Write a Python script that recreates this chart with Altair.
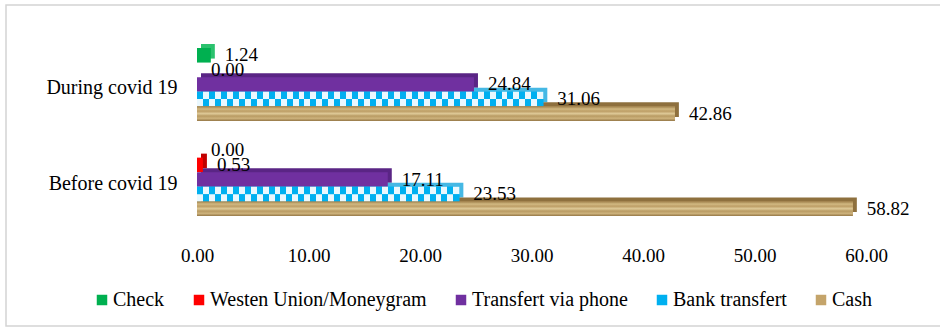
import altair as alt
import pandas as pd

# Share of transfer methods used, before and during covid 19
periods = ["During covid 19", "Before covid 19"]
methods = ["Check", "Westen Union/Moneygram", "Transfert via phone", "Bank transfert", "Cash"]
during_values = [1.24, 0.00, 24.84, 31.06, 42.86]
before_values = [0.00, 0.53, 17.11, 23.53, 58.82]
x_ticks = [0, 10, 20, 30, 40, 50, 60]

rows = []
for period, vals in zip(periods, [during_values, before_values]):
    for m, v in zip(methods, vals):
        rows.append({"period": period, "method": m, "value": v})
df = pd.DataFrame(rows)

FONT = "Liberation Serif"
W, H = 669, 200
X_MAX = 60
PX_PER_UNIT = W / X_MAX
P_INNER, P_OUTER = 0.232, 0.168
BAND = H / (2 - P_INNER + 2 * P_OUTER) * (1 - P_INNER)   # height of one period group
SLOT = BAND / len(methods)
DEPTH = 4

front_colors = ["#00B050", "#FF0000", "#7030A0", "#00B0F0", "#C4A46A"]
side_colors = ["#2BC26E", "#C00000", "#5A2585", "#45B8E4", "#8E703E"]

y_enc = alt.Y(
    "period:N",
    sort=periods,
    scale=alt.Scale(domain=periods, paddingInner=P_INNER, paddingOuter=P_OUTER),
    axis=alt.Axis(
        title=None, domain=False, ticks=False, labelFont=FONT, labelFontSize=20,
        labelColor="#000000", labelPadding=20, labelOffset=4, grid=False,
    ),
)


def yoff(field="method:N", domain=methods, shift=0.0):
    return alt.YOffset(
        field, sort=domain,
        scale=alt.Scale(domain=domain, range=[shift, BAND + shift], paddingInner=0, paddingOuter=0),
    )


x_enc = alt.X(
    "value:Q",
    scale=alt.Scale(domain=[0, X_MAX], nice=False),
    axis=alt.Axis(
        title=None, values=x_ticks, format=".2f", domain=False, ticks=False, grid=False,
        labelFont=FONT, labelFontSize=19, labelColor="#000000", labelPadding=14,
        labelFlush=False,
    ),
)

base = alt.Chart(df)

# extruded depth behind each bar (top and right faces)
depth = base.mark_bar(xOffset=DEPTH).encode(
    x=x_enc, y=y_enc, yOffset=yoff(shift=-DEPTH),
    color=alt.Color("method:N", scale=alt.Scale(domain=methods, range=side_colors), legend=None),
)

# front faces, also the source of the legend
front = base.mark_bar().encode(
    x=x_enc, y=y_enc, yOffset=yoff(),
    color=alt.Color(
        "method:N", sort=methods,
        scale=alt.Scale(domain=methods, range=front_colors),
        legend=alt.Legend(
            title=None, orient="none", direction="horizontal", legendX=-105, legendY=258,
            symbolType="square", symbolSize=110, symbolStrokeWidth=0, labelFont=FONT,
            labelFontSize=20, labelColor="#000000", columnPadding=24, labelOffset=1,
            labelLimit=0, padding=0, columns=5,
        ),
    ),
)

layers = [depth, front]

# checkerboard fill for bank transfers: two rows of alternating squares
sub_slots = [f"{m}|{r}" for m in methods for r in (0, 1)]
CELL = 6.0
for period, vals in zip(periods, [during_values, before_values]):
    v = vals[methods.index("Bank transfert")]
    n = max(1, round(v * PX_PER_UNIT / CELL))
    for row in (0, 1):
        stops = []
        for k in range(n):
            c = "#00B0F0" if (k + row) % 2 == 0 else "#EAF8FE"
            stops.append({"offset": k / n, "color": c})
            stops.append({"offset": (k + 1) / n, "color": c})
        grad = {"gradient": "linear", "x1": 0, "x2": 1, "y1": 0, "y2": 0, "stops": stops}
        layers.append(
            base.transform_filter(
                (alt.datum.method == "Bank transfert") & (alt.datum.period == period)
            ).transform_calculate(
                sub=f"datum.method + '|{row}'"
            ).mark_bar(fill=grad).encode(
                x=x_enc, y=y_enc, yOffset=yoff("sub:N", sub_slots)
            )
        )

# grained fill for cash
cash_stops = [
    {"offset": 0.0, "color": "#9E7F4A"},
    {"offset": 0.18, "color": "#D2B982"},
    {"offset": 0.33, "color": "#BD9E66"},
    {"offset": 0.5, "color": "#DEC997"},
    {"offset": 0.66, "color": "#B89A62"},
    {"offset": 0.82, "color": "#CDB27C"},
    {"offset": 1.0, "color": "#957746"},
]
cash_grad = {"gradient": "linear", "x1": 0, "x2": 0, "y1": 0, "y2": 1, "stops": cash_stops}
layers.append(
    base.transform_filter(alt.datum.method == "Cash")
    .mark_bar(fill=cash_grad)
    .encode(x=x_enc, y=y_enc, yOffset=yoff())
)

# value labels at the centre of each bar's slot
labels = base.mark_text(
    align="left", baseline="middle", dx=14, font=FONT, fontSize=19, color="#000000"
).encode(
    x=x_enc, y=y_enc,
    yOffset=alt.YOffset(
        "method:N", sort=methods,
        scale=alt.Scale(type="point", domain=methods, range=[SLOT / 2, BAND - SLOT / 2], padding=0),
    ),
    text=alt.Text("value:Q", format=".2f"),
)
layers.append(labels)

# outer frame
frame = alt.Chart(pd.DataFrame({"k": [0]})).mark_rect(
    fill=None, stroke="#D4D4D4", strokeWidth=1.5
).encode(
    x=alt.value(-191), x2=alt.value(780), y=alt.value(-27), y2=alt.value(294)
)

chart = alt.layer(frame, *layers).resolve_scale(
    color="independent", yOffset="independent"
).properties(
    width=W, height=H,
    autosize=alt.AutoSizeParams(type="none"),
    padding={"left": 197, "top": 32, "right": 74, "bottom": 98},
    background="#FFFFFF",
).configure_view(stroke=None)

chart.save("out.html", embed_options={"renderer": "svg", "actions": False})
